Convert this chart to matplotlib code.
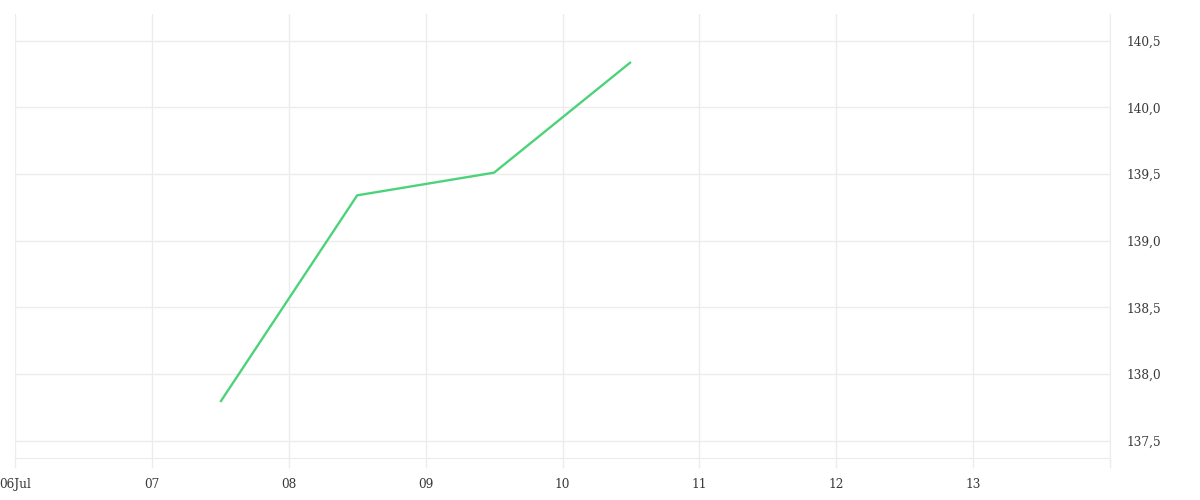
import matplotlib
matplotlib.use("Agg")
import matplotlib.pyplot as plt
import matplotlib.dates as mdates
from matplotlib.ticker import FuncFormatter, FixedLocator
from datetime import datetime

# Data
times = ["2023-07-07 12:00", "2023-07-08 12:00", "2023-07-09 12:00", "2023-07-10 12:00"]
values = [137.79, 139.34, 139.51, 140.34]
tick_days = ["2023-07-06", "2023-07-07", "2023-07-08", "2023-07-09", "2023-07-10",
             "2023-07-11", "2023-07-12", "2023-07-13", "2023-07-14"]
tick_labels = ["06Jul", "07", "08", "09", "10", "11", "12", "13", ""]
y_ticks = [137.5, 138.0, 138.5, 139.0, 139.5, 140.0, 140.5]

x = [datetime.strptime(t, "%Y-%m-%d %H:%M") for t in times]
xt = [datetime.strptime(t, "%Y-%m-%d") for t in tick_days]

plt.rcParams['font.family'] = ['DejaVu Serif', 'Liberation Serif']
grid_c = "#ececec"

fig = plt.figure(figsize=(12, 5), dpi=100)
ax = fig.add_axes([15/1200, 42/500, (1110-15)/1200, (458-14)/500])

ax.plot(x, values, color="#4cd37a", linewidth=1.7, solid_capstyle="butt")

ax.set_xlim(xt[0], xt[-1])
ax.set_ylim(137.37, 140.70)

ax.xaxis.set_major_locator(FixedLocator(mdates.date2num(xt)))
ax.set_xticklabels(tick_labels)
ax.set_yticks(y_ticks)
ax.yaxis.set_major_formatter(FuncFormatter(lambda v, p: f"{v:.1f}".replace(".", ",")))
ax.yaxis.tick_right()

ax.grid(True, color=grid_c, linewidth=1)
ax.tick_params(axis="x", length=7.5, width=1, color=grid_c, pad=7, labelsize=8.7, labelcolor="#3a3a3a")
ax.tick_params(axis="y", length=0, pad=12, labelsize=8.7, labelcolor="#3a3a3a")

for s in ["top", "left"]:
    ax.spines[s].set_visible(False)
ax.spines["right"].set_color(grid_c)
ax.spines["bottom"].set_color(grid_c)

fig.savefig("out.png", dpi=100, facecolor="white")
